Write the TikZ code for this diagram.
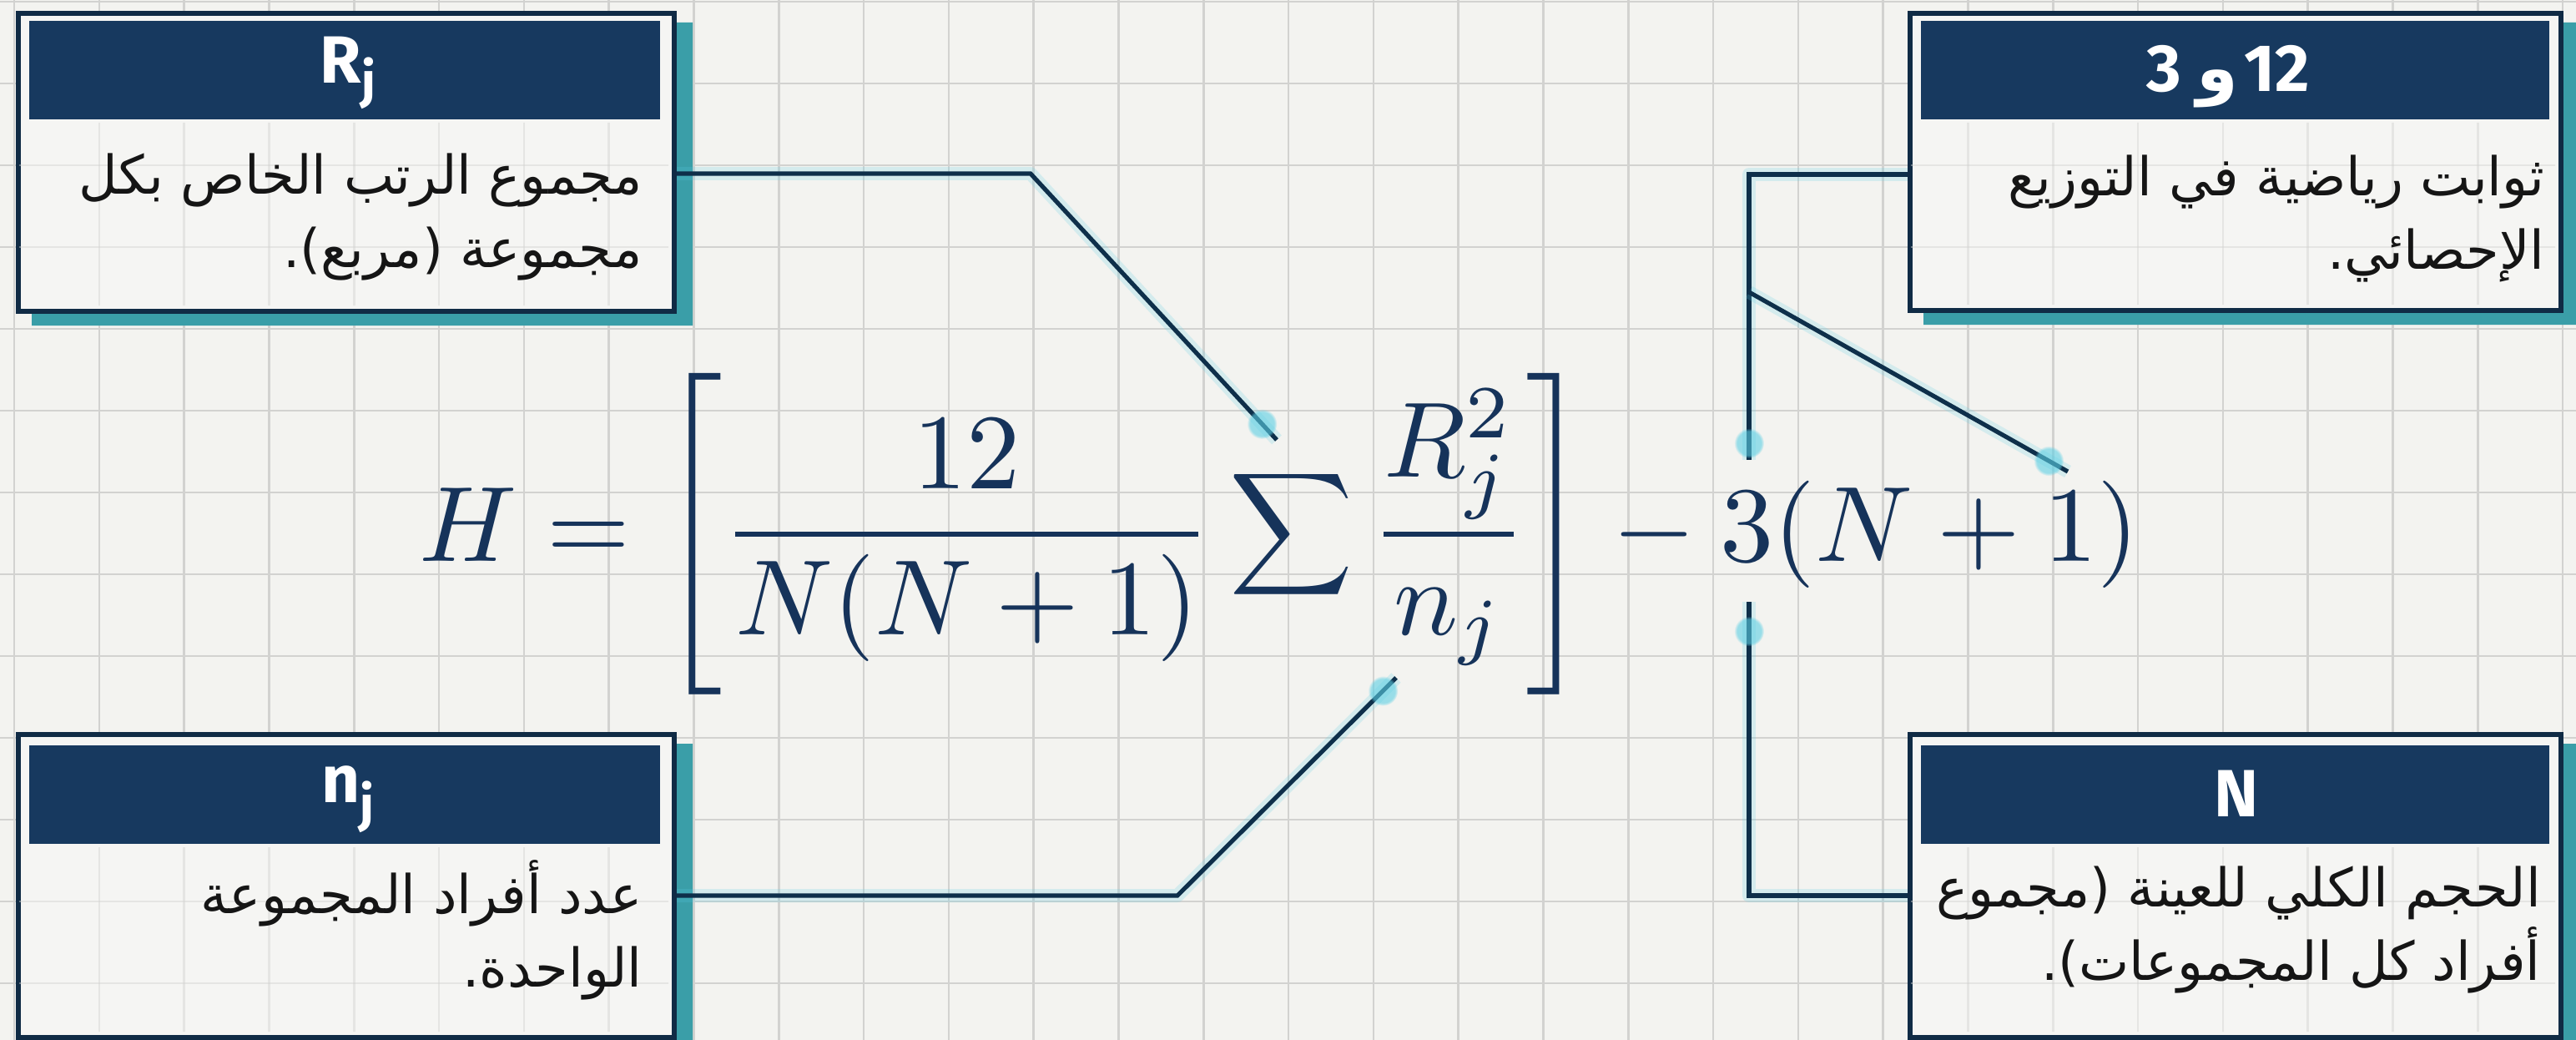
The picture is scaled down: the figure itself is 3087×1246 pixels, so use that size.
\documentclass[tikz,border=0pt]{standalone}
\usepackage{fontspec}
\usepackage{graphicx}
\usetikzlibrary{fadings,calc}
\TeXXeTstate=1
\newfontfamily\arabicfont[Script=Arabic]{DejaVu Sans}
\newfontfamily\headfont{Fira Sans}
\definecolor{bgc}{HTML}{F3F3F0}
\definecolor{gridc}{HTML}{D2D2D0}
\definecolor{navy}{HTML}{17395F}
\definecolor{cardborder}{HTML}{102B45}
\definecolor{cardfill}{HTML}{F5F5F3}
\definecolor{shadowc}{HTML}{3A9EA8}
\definecolor{linec}{HTML}{0E2F4A}
\definecolor{glowc}{HTML}{5CCFE4}
\definecolor{mathc}{HTML}{16335A}
\definecolor{textc}{HTML}{151515}
\tikzset{
  gridline/.style={draw=gridc, line width=1.3pt},
  card/.style={draw=cardborder, line width=3pt, fill=cardfill, inner sep=0pt, anchor=north west},
  headbar/.style={fill=navy, inner sep=0pt, anchor=north west, minimum height=59pt},
  headtxt/.style={text=white, font=\headfont\bfseries\fontsize{40}{40}\selectfont, anchor=base, inner sep=0pt},
  bodytxt/.style={text=textc, font=\arabicfont\fontsize{32}{44}\selectfont, align=right, anchor=east, inner sep=0pt},
  shadowfill/.style={fill=shadowc},
  conn/.style={draw=linec, line width=2.6pt, line join=miter,
    preaction={draw=glowc, line width=8pt, opacity=0.2, line join=round}},
  endglow/.style={fill=glowc, opacity=0.6, path fading=circle with fuzzy edge 20 percent},
}
\begin{document}
\begin{tikzpicture}[x=0.5pt,y=-0.5pt]
\useasboundingbox (0,0) rectangle (3087,1246);
\begin{scope}
\clip (0,0) rectangle (3087,1246);
\fill[bgc] (0,0) rectangle (3087,1246);
\foreach \i in {0,...,30} \draw[gridline] ({17+101.8*\i},0) -- ({17+101.8*\i},1246);
\foreach \j in {0,...,12} \draw[gridline] (0,{2+98*\j}) -- (3087,{2+98*\j});
% shadows of the cards
\fill[shadowfill] (808,27) -- (830,27) -- (830,390) -- (38,390) -- (38,373) -- (808,373) -- cycle;
\fill[shadowfill] (3069,27) -- (3091,27) -- (3091,389) -- (2305,389) -- (2305,372) -- (3069,372) -- cycle;
\fill[shadowfill] (808,891) -- (830,891) -- (830,1262) -- (38,1262) -- (38,1243) -- (808,1243) -- cycle;
\fill[shadowfill] (3069,891) -- (3091,891) -- (3091,1262) -- (2305,1262) -- (2305,1243) -- (3069,1243) -- cycle;
\end{scope}

% cards
\node[card, minimum width=393pt, minimum height=178.5pt] (rjbox) at (19,13) {};
\node[card, minimum width=390pt, minimum height=178pt] (trbox) at (2286,13) {};
\node[card, minimum width=393pt, minimum height=181.5pt] (blbox) at (19,877) {};
\node[card, minimum width=390pt, minimum height=181.5pt] (brbox) at (2286,877) {};

% faint grid showing through the card bodies
\begin{scope}
\clip (23,147) rectangle (801,366) (2290,147) rectangle (3062,365)
      (23,1015) rectangle (801,1236) (2290,1015) rectangle (3062,1236);
\foreach \i in {0,...,30} \draw[gridline, opacity=0.45] ({17+101.8*\i},0) -- ({17+101.8*\i},1246);
\foreach \j in {0,...,12} \draw[gridline, opacity=0.45] (0,{2+98*\j}) -- (3087,{2+98*\j});
\end{scope}

\node[headbar, minimum width=378pt] (rjhead) at (35,25) {};
\node[headtxt] (rjtitle) at (417,100) {R\raisebox{-9pt}{\fontsize{30}{30}\selectfont j}};
\node[bodytxt] (rjtext) at (770,260) {\beginR مجموع الرتب الخاص بكل\endR\\\beginR مجموعة (مربع).\endR};

\node[headbar, minimum width=376.5pt] (trhead) at (2302,25) {};
\node[headtxt, anchor=base east] (trthree) at (2614,110) {3};
\node[headtxt, font=\arabicfont\bfseries\fontsize{40}{40}\selectfont] (trwaw) at (2657,110) {و};
\node[headtxt, anchor=base west] (trtwelve) at (2689,110) {12};
\node[bodytxt] (trtext) at (3050,262) {\beginR ثوابت رياضية في التوزيع\endR\\\beginR الإحصائي.\endR};

\node[headbar, minimum width=378pt] (blhead) at (35,893) {};
\node[headtxt] (bltitle) at (417,961) {n\raisebox{-11.5pt}{\fontsize{30}{30}\selectfont j}};
\node[bodytxt] (bltext) at (770,1114) {\beginR عدد أفراد المجموعة\endR\\\beginR الواحدة.\endR};

\node[headbar, minimum width=376.5pt] (brhead) at (2302,893) {};
\node[headtxt] (brtitle) at (2680,978) {N};
\node[bodytxt] (brtext) at (3045,1114) {\beginR الحجم الكلي للعينة (مجموع\endR\\\beginR أفراد كل المجموعات).\endR};

% formula
\node[inner sep=0pt, text=mathc] (formula) at (1533,640)
  {\resizebox{1030pt}{!}{$\displaystyle H=\left[\frac{12}{N(N+1)}\mathop{\vcenter{\hbox{\scalebox{0.8}{$\displaystyle\sum$}}}}\frac{R_j^2}{n_j}\right]-3(N+1)$}};

% connector points
\coordinate (rjbend) at (1235,208);
\coordinate (sigtop) at (1530,527);
\coordinate (trbend) at (2096,209);
\coordinate (trsplit) at (2096,350);
\coordinate (threetop) at (2096,551);
\coordinate (onetop) at (2478,565);
\coordinate (brbend) at (2096,1073);
\coordinate (threebot) at (2096,721);
\coordinate (blbend) at (1411,1073);
\coordinate (njbot) at (1673,812);

% connectors
\draw[conn] (rjbox.east |- rjbend) -- (rjbend) -- (sigtop);
\draw[conn] (trbox.west |- trbend) -- (trbend) -- (threetop);
\draw[conn] (trsplit) -- (onetop);
\draw[conn] (brbox.west |- brbend) -- (brbend) -- (threebot);
\draw[conn] (blbox.east |- blbend) -- (blbend) -- (njbot);

% soft glows at the formula ends
\fill[endglow] ($(sigtop)!0.06!(rjbend)$) circle (9pt);
\fill[endglow] ($(threetop)!0.1!(trsplit)$) circle (9pt);
\fill[endglow] ($(onetop)!0.06!(trsplit)$) circle (9pt);
\fill[endglow] ($(threebot)!0.1!(brbend)$) circle (9pt);
\fill[endglow] ($(njbot)!0.06!(blbend)$) circle (9pt);
\end{tikzpicture}
\end{document}
